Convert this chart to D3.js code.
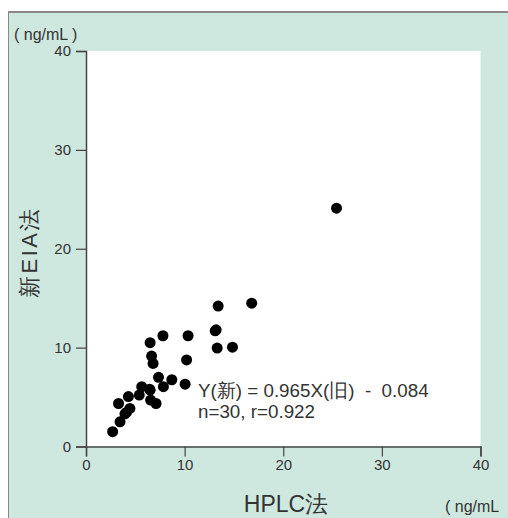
<!DOCTYPE html>
<html>
<head>
<meta charset="utf-8">
<script src="https://cdn.jsdelivr.net/npm/d3@7"></script>
<style>
  body { margin: 0; background: #fff; }
  svg { display: block; font-family: "Liberation Sans", Arial, sans-serif; }
</style>
</head>
<body>
<script>
// HPLC (old method) vs new EIA method, ng/mL
var hplc = [2.7, 3.45, 3.95, 4.45, 3.3, 4.3, 5.4, 5.65, 6.5, 6.55, 7.1, 7.35, 7.85, 8.7, 10.05,
            10.2, 6.5, 6.65, 6.8, 7.8, 10.35, 13.1, 13.4, 13.3, 14.85, 16.8, 25.4, 6.45, 4.1, 13.2];
var eia  = [1.5, 2.5, 3.3, 3.85, 4.35, 5.05, 5.2, 6.05, 5.7, 4.7, 4.35, 7.0, 6.05, 6.75, 6.3,
            8.75, 10.5, 9.15, 8.4, 11.2, 11.2, 11.7, 14.2, 9.95, 10.05, 14.5, 24.1, 5.8, 3.45, 11.8];
var xTicks = [0, 10, 20, 30, 40];
var yTicks = [0, 10, 20, 30, 40];

var W = 508, H = 518;
var plot = {left: 86, top: 51, right: 480.5, bottom: 446.5};
var bgColor = "#cee8df";
var axisColor = "#444";
var textColor = "#333";

var svg = d3.select("body").append("svg")
    .attr("width", W)
    .attr("height", H);

// panel background + frame (top and left edges only)
svg.append("rect")
    .attr("x", 8).attr("y", 12)
    .attr("width", W - 8).attr("height", H - 12)
    .attr("fill", bgColor);
svg.append("line")
    .attr("x1", 8).attr("x2", W).attr("y1", 12).attr("y2", 12)
    .attr("stroke", "#888").attr("stroke-width", 2);
svg.append("line")
    .attr("x1", 8.5).attr("x2", 8.5).attr("y1", 12).attr("y2", H)
    .attr("stroke", "#888").attr("stroke-width", 1);

// white plotting area
svg.append("rect")
    .attr("x", plot.left).attr("y", plot.top)
    .attr("width", plot.right - plot.left)
    .attr("height", plot.bottom - plot.top)
    .attr("fill", "#fff");

var xScale = d3.scaleLinear().domain([0, 40]).range([plot.left, plot.right]);
var yScale = d3.scaleLinear().domain([0, 40]).range([plot.bottom, plot.top]);

var xAxis = svg.append("g")
    .attr("transform", "translate(0," + plot.bottom + ")")
    .call(d3.axisBottom(xScale).tickValues(xTicks).tickSize(10).tickPadding(3));
var yAxis = svg.append("g")
    .attr("transform", "translate(" + plot.left + ",0)")
    .call(d3.axisLeft(yScale).tickValues(yTicks).tickSize(10).tickPadding(5));

[xAxis, yAxis].forEach(function(ax) {
    ax.select(".domain").attr("stroke", axisColor).attr("stroke-width", 1.5);
    ax.selectAll(".tick line").attr("stroke", axisColor).attr("stroke-width", 1.2);
    ax.selectAll(".tick text")
        .attr("fill", textColor)
        .style("font-size", "15px")
        .style("font-family", "'Liberation Sans', Arial, sans-serif");
});

// data points
svg.append("g").selectAll("circle")
    .data(hplc)
    .enter()
    .append("circle")
        .attr("cx", function(d) { return xScale(d); })
        .attr("cy", function(d, i) { return yScale(eia[i]); })
        .attr("r", 5.5)
        .attr("fill", "#000");

// unit labels (the bottom one runs off the right edge in the original)
svg.append("text")
    .attr("x", 14).attr("y", 40)
    .attr("fill", textColor)
    .style("font-size", "16px")
    .text("( ng/mL )");
svg.append("text")
    .attr("x", 445).attr("y", 512)
    .attr("fill", textColor)
    .style("font-size", "16px")
    .text("( ng/mL");

// axis titles
svg.append("text")
    .attr("x", 286).attr("y", 512)
    .attr("text-anchor", "middle")
    .attr("fill", textColor)
    .style("font-size", "23px")
    .text("HPLC法");
svg.append("text")
    .attr("transform", "translate(37,252) rotate(-90)")
    .attr("text-anchor", "middle")
    .attr("fill", textColor)
    .style("font-size", "22px")
    .style("letter-spacing", "2.5px")
    .text("新EIA法");

// regression annotation
svg.append("text")
    .attr("x", 198).attr("y", 397)
    .attr("fill", textColor)
    .style("font-size", "18.8px")
    .style("white-space", "pre")
    .text("Y(新) = 0.965X(旧)  -  0.084");
svg.append("text")
    .attr("x", 198).attr("y", 418)
    .attr("fill", textColor)
    .style("font-size", "18.8px")
    .text("n=30, r=0.922");
</script>
</body>
</html>
